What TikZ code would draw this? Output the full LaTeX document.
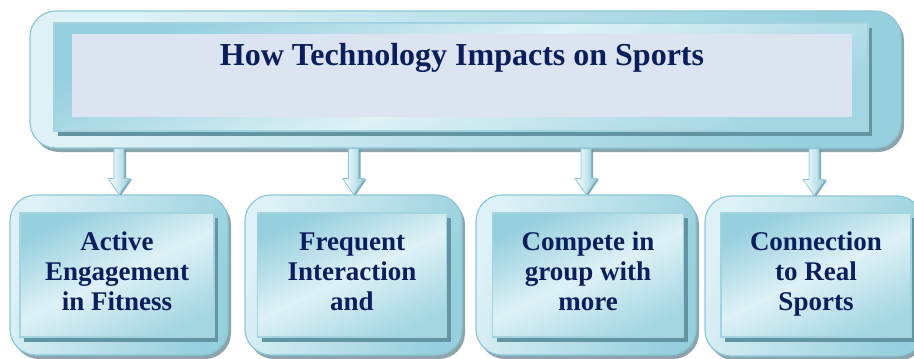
\documentclass[tikz,border=0pt]{standalone}
\usepackage{fontspec}
\setmainfont{Liberation Serif}
\usetikzlibrary{calc,shadows}

\definecolor{navy}{RGB}{10,30,92}
\definecolor{paleblue}{RGB}{222,241,246}
\definecolor{midblue}{RGB}{150,207,221}
\definecolor{edgeblue}{RGB}{140,200,215}
\definecolor{greyshade}{RGB}{140,165,172}
\definecolor{darkedge}{RGB}{98,148,162}
\definecolor{textarea}{RGB}{219,228,240}

\begin{document}
\begin{tikzpicture}[
		x=1pt, y=-1pt,
		frame/.style={rounded corners=26pt, draw=edgeblue, line width=1.2pt,
			left color=paleblue, right color=midblue, shading angle=70,
			drop shadow={shadow xshift=3pt, shadow yshift=-4pt, fill=greyshade, opacity=1}},
		panel/.style={draw=edgeblue!80!white, line width=1.2pt,
			top color=midblue, bottom color=midblue!80!paleblue, middle color=paleblue, shading angle=25,
			drop shadow={shadow xshift=4pt, shadow yshift=-5pt, fill=darkedge, opacity=1}},
		item/.style={align=center, text=navy, text depth=7pt, font=\bfseries\fontsize{27}{30}\selectfont},
		titlebox/.style={fill=textarea, inner sep=0pt, minimum width=780pt,
			text height=31pt, text depth=52pt, text=navy, font=\bfseries\fontsize{32}{36}\selectfont},
		connector/.style={draw=edgeblue, line width=0.8pt, left color=white, right color=midblue,
			drop shadow={shadow xshift=2pt, shadow yshift=-1pt, fill=darkedge, opacity=0.8}}
	]
	\useasboundingbox (0,0) rectangle (914,359);
	\clip (0,0) rectangle (914,359);

	% heading
	\node[frame, minimum width=871pt, minimum height=137pt] (topframe) at (465.5,79.5) {};
	\node[panel, minimum width=814pt, minimum height=108pt] (toppanel) at (461,77) {};
	\node[titlebox] (title) at (462,75.5) {How Technology Impacts on Sports};

	% the four impacts
	\node[frame, minimum width=218pt, minimum height=160pt] (f1) at (119,275) {};
	\node[panel, item, minimum width=194pt, minimum height=124pt] (b1) at (117,275) {Active\\Engagement\\in Fitness};
	\node[frame, minimum width=217pt, minimum height=160pt] (f2) at (353.5,275) {};
	\node[panel, item, minimum width=189pt, minimum height=124pt] (b2) at (352,275) {Frequent\\Interaction\\and};
	\node[frame, minimum width=220pt, minimum height=160pt] (f3) at (586,275) {};
	\node[panel, item, minimum width=191pt, minimum height=124pt] (b3) at (588,275) {Compete in\\group with\\more};
	\node[frame, minimum width=218pt, minimum height=160pt] (f4) at (814,276) {};
	\node[panel, item, minimum width=190pt, minimum height=124pt] (b4) at (816,275) {Connection\\to Real\\Sports};

	% arrows
	\foreach \i in {1,...,4} {
		\coordinate (s\i) at (topframe.south -| f\i.north);
		\coordinate (t\i) at (f\i.north);
		\path[connector] ($(s\i)+(-5,0)$) -- ($(t\i)+(-5,-16)$) -- ($(t\i)+(-11,-16)$) -- (t\i)
			-- ($(t\i)+(11,-16)$) -- ($(t\i)+(5,-16)$) -- ($(s\i)+(5,0)$) -- cycle;
	}
\end{tikzpicture}
\end{document}
